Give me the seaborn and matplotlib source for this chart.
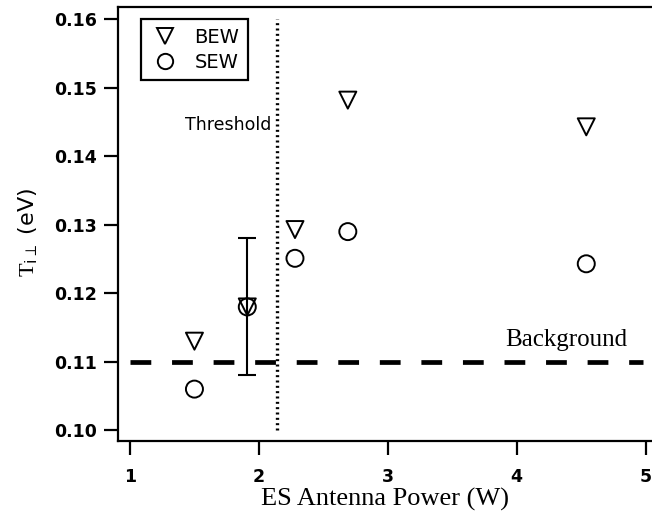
import matplotlib
matplotlib.use("Agg")
import matplotlib.pyplot as plt
import numpy as np
import pandas as pd
import seaborn as sns

# data
power = [1.50, 1.91, 2.28, 2.69, 4.54]
t_bew = [0.1130, 0.1180, 0.1293, 0.1482, 0.1443]
t_sew = [0.1060, 0.1180, 0.1251, 0.1290, 0.1243]
err_x = [1.91]
err_y = [0.118]
err_size = [0.010]
threshold_x = 2.14
threshold_span = [0.100, 0.160]
background_y = 0.110
background_span = [1.0, 4.98]

xticks = [1, 2, 3, 4, 5]
yticks = [0.10, 0.11, 0.12, 0.13, 0.14, 0.15, 0.16]

sns.set_style("ticks")
plt.rcParams["font.family"] = ["DejaVu Sans"]
plt.rcParams["mathtext.fontset"] = "custom"
plt.rcParams["mathtext.rm"] = "Liberation Serif"
plt.rcParams["mathtext.sf"] = "DejaVu Sans"
plt.rcParams["text.color"] = "black"
plt.rcParams["xtick.color"] = "black"
plt.rcParams["ytick.color"] = "black"
plt.rcParams["axes.labelcolor"] = "black"

df = pd.DataFrame({
    "power": power * 2,
    "T": t_bew + t_sew,
    "wave": ["BEW"] * len(power) + ["SEW"] * len(power),
})

fig = plt.figure(figsize=(6.52, 5.19), dpi=100)
ax = fig.add_axes([0.181, 0.150, 0.819, 0.8365])

# reference lines
ax.plot([threshold_x, threshold_x], threshold_span, color="black",
        linestyle=(0, (0.6, 1.0)), lw=2.4, zorder=1)
ax.plot(background_span, [background_y, background_y], color="black",
        lw=3.4, dashes=(4.4, 4.4), zorder=1)

ax.errorbar(err_x, err_y, yerr=err_size, fmt="none", ecolor="black",
            elinewidth=1.5, capsize=6.5, capthick=1.5, zorder=2)

sns.scatterplot(data=df, x="power", y="T", style="wave",
                markers={"BEW": "v", "SEW": "o"}, s=150,
                facecolor="none", edgecolor="black", linewidth=1.4,
                ax=ax, zorder=3)

ax.set_xlim(0.907, 5.05)
ax.set_ylim(0.0984, 0.1618)
ax.set_xticks(xticks)
ax.set_xticklabels([str(v) for v in xticks], fontweight="bold")
ax.set_yticks(yticks)
ax.set_yticklabels([f"{v:.2f}" for v in yticks], fontweight="bold")
ax.tick_params(direction="out", length=10, width=1.6, labelsize=12.5,
               pad=5)
ax.tick_params(axis="x", pad=9)

for side in ["left", "bottom", "top"]:
    ax.spines[side].set_linewidth(1.6)
    ax.spines[side].set_color("black")
ax.spines["right"].set_visible(False)

ax.set_xlabel("ES Antenna Power (W)", family="Liberation Serif",
              fontsize=19, labelpad=2)
ax.set_ylabel(r"$\mathrm{T}_{\mathsf{i}\perp}$ (eV)", fontsize=16)
ax.yaxis.set_label_coords(-0.146, 0.48)

ax.text(threshold_x - 0.04, 0.1445, "Threshold", ha="right", va="center",
        fontsize=12.5)
ax.text(4.86, 0.1132, "Background", ha="right", va="center",
        family="Liberation Serif", fontsize=18)

leg = ax.legend(loc="upper left", bbox_to_anchor=(0.043, 0.972),
                fancybox=False, edgecolor="black", framealpha=1,
                fontsize=14, handletextpad=0.7, borderpad=0.45,
                labelspacing=0.3, markerscale=0.9, borderaxespad=0,
                handlelength=1.6)
leg.get_frame().set_linewidth(1.6)

fig.savefig("out.png", dpi=100)
